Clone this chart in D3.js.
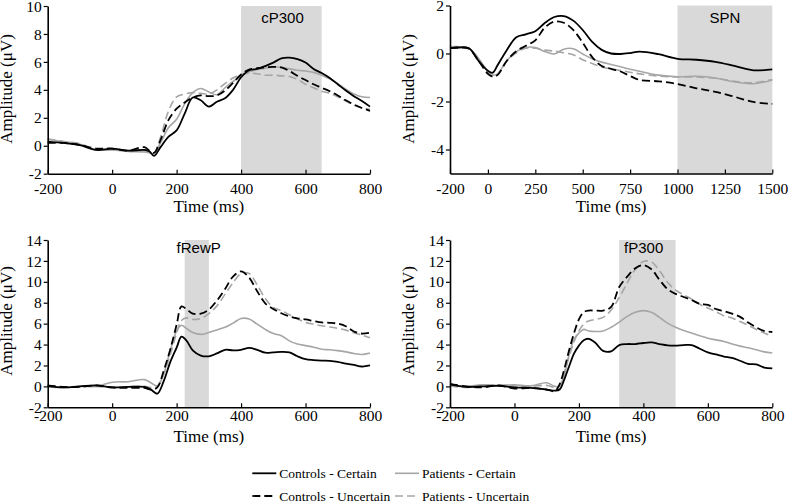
<!DOCTYPE html>
<html><head><meta charset="utf-8">
<script src="https://cdn.jsdelivr.net/npm/d3@7"></script>
<style>
body{margin:0;background:#fff;}
svg{display:block;}
.serif{font-family:"Liberation Serif","Times New Roman",Times,serif;}
.sans{font-family:"Liberation Sans",Arial,Helvetica,sans-serif;}
</style></head>
<body><svg id="c" width="789" height="502"></svg>
<script>
// ---------- DATA ----------
const seriesNames = ["Controls - Certain","Patients - Certain","Controls - Uncertain","Patients - Uncertain"];

// Panel 1: cP300
const t1 = [-200,-150,-100,-50,0,50,100,115,130,150,175,200,225,250,275,300,325,350,375,400,425,450,475,500,525,550,575,600,625,650,675,700,725,750,775,800];
const cc1 = [0.3,0.2,0.05,-0.3,-0.2,-0.35,-0.3,-0.4,-0.72,-0.1,0.65,1.1,2.3,3.45,3.25,2.8,3.15,3.4,4.0,4.9,5.4,5.5,5.7,5.95,6.25,6.3,6.2,5.95,5.5,5.2,4.85,4.4,3.95,3.55,3.2,2.8];
const cu1 = [0.2,0.2,0.05,-0.2,-0.2,-0.35,-0.1,-0.35,-0.5,0.4,1.85,2.65,3.1,3.45,3.6,3.55,3.6,3.95,4.5,5.1,5.45,5.55,5.6,5.65,5.6,5.35,5.0,4.7,4.4,4.15,3.9,3.6,3.25,2.95,2.7,2.5];
const pc1 = [0.45,0.3,0.1,-0.3,-0.3,-0.4,-0.45,-0.5,-0.55,0.2,1.3,1.9,3.0,3.8,4.1,3.85,3.65,4.15,4.6,5.0,5.3,5.45,5.55,5.65,5.6,5.5,5.4,5.35,5.25,5.05,4.8,4.45,4.05,3.7,3.5,3.45];
const pu1 = [0.5,0.3,0.15,-0.3,-0.25,-0.4,-0.35,-0.45,-0.5,0.6,2.5,3.5,3.7,3.8,3.75,3.7,4.0,4.45,4.85,5.1,5.2,5.15,5.05,5.05,5.0,4.95,4.75,4.4,4.15,3.9,3.75,3.5,3.2,2.9,2.7,2.6];

// Panel 2: SPN
const t2 = [-200,-150,-100,-50,0,25,50,100,150,200,250,300,350,400,450,500,550,600,650,700,750,800,900,1000,1100,1200,1300,1400,1500];
const cc2 = [0.22,0.25,0.22,-0.3,-0.72,-0.8,-0.5,0.15,0.68,0.8,0.93,1.27,1.52,1.56,1.37,0.98,0.48,0.15,0.0,-0.02,0.02,0.08,-0.03,-0.22,-0.26,-0.35,-0.52,-0.7,-0.66];
const cu2 = [0.22,0.25,0.2,-0.3,-0.85,-0.96,-0.9,-0.3,0.1,0.32,0.55,1.08,1.33,1.28,0.98,0.45,-0.15,-0.52,-0.64,-0.75,-0.94,-1.1,-1.16,-1.27,-1.45,-1.6,-1.8,-2.02,-2.1];
const pc2 = [0.28,0.28,0.22,-0.2,-0.75,-0.9,-0.85,-0.3,0.08,0.25,0.25,0.08,-0.02,0.18,0.2,-0.02,-0.22,-0.36,-0.46,-0.55,-0.66,-0.74,-0.9,-0.97,-0.95,-1.02,-1.18,-1.26,-1.1];
const pu2 = [0.28,0.26,0.22,-0.2,-0.78,-0.95,-0.9,-0.3,0.03,0.22,0.22,0.14,0.1,0.03,-0.05,-0.26,-0.42,-0.56,-0.64,-0.71,-0.78,-0.85,-0.94,-0.98,-0.98,-1.03,-1.16,-1.22,-1.08];

// Panel 3: fRewP
const t3 = [-200,-150,-100,-50,0,50,100,120,140,160,180,200,215,230,250,275,300,325,350,375,400,425,450,475,500,525,550,575,600,625,650,675,700,725,750,775,800];
const cc3 = [0.05,-0.1,0.0,0.1,-0.1,-0.05,-0.05,-0.3,-0.7,0.5,2.3,3.7,4.75,4.4,3.45,2.95,2.88,3.15,3.5,3.45,3.5,3.68,3.5,3.22,3.25,3.3,3.25,2.88,2.6,2.52,2.47,2.44,2.35,2.18,2.05,1.9,2.0];
const cu3 = [0.1,-0.05,-0.05,0.1,-0.1,-0.15,-0.15,-0.3,-0.1,1.5,3.5,5.9,7.65,7.4,6.95,6.95,7.35,8.2,9.3,10.5,11.0,10.4,9.1,7.95,7.4,7.0,6.7,6.5,6.4,6.25,6.12,6.08,6.0,5.75,5.25,5.05,5.13];
const pc3 = [-0.05,-0.1,0.0,0.0,0.4,0.45,0.65,0.35,0.05,1.2,3.4,5.3,5.85,5.55,5.15,4.97,5.15,5.4,5.65,6.05,6.5,6.45,5.95,5.45,5.05,4.85,4.35,4.05,3.9,3.75,3.55,3.5,3.42,3.3,3.15,3.05,3.2];
const pu3 = [0.0,-0.1,0.0,0.0,-0.1,-0.05,0.0,-0.1,0.0,1.2,3.0,5.1,6.3,6.55,6.4,6.5,6.95,7.7,8.8,9.9,10.8,10.8,9.7,8.4,7.55,7.25,6.85,6.45,6.12,5.95,5.8,5.68,5.55,5.38,5.12,4.9,4.65];

// Panel 4: fP300
const t4 = [-200,-150,-100,-50,0,50,100,125,140,155,170,185,200,215,230,250,275,300,325,350,375,400,425,450,475,500,525,550,575,600,625,650,675,700,725,750,775,800];
const cc4 = [0.2,-0.05,0.0,0.05,-0.1,-0.15,-0.3,-0.4,-0.3,0.7,1.95,3.15,3.9,4.42,4.55,4.2,3.4,3.35,3.95,4.05,4.05,4.15,4.2,4.05,3.92,3.9,3.95,3.95,3.6,3.25,3.05,2.85,2.72,2.45,2.15,2.1,1.8,1.72];
const cu4 = [0.25,0.0,-0.1,0.1,-0.2,-0.15,-0.3,-0.45,0.2,1.7,3.5,5.1,6.4,7.1,7.25,7.25,7.25,7.6,9.5,10.5,11.3,11.6,11.2,10.2,9.3,8.85,8.55,8.25,7.9,7.8,7.4,7.2,6.95,6.65,6.1,5.65,5.3,5.2];
const pc4 = [0.1,0.0,0.15,0.1,0.15,0.05,0.35,0.0,0.0,1.1,3.1,4.5,5.1,5.45,5.3,5.25,5.3,5.65,6.15,6.7,7.1,7.25,7.1,6.6,6.05,5.65,5.35,5.1,4.85,4.6,4.45,4.3,4.05,3.85,3.7,3.5,3.3,3.2];
const pu4 = [0.05,-0.1,0.1,0.1,0.05,0.0,0.1,-0.1,0.1,1.4,2.9,4.3,5.3,5.95,6.25,6.4,6.6,7.3,8.5,9.9,11.2,11.95,11.9,11.05,9.95,9.2,8.75,8.35,7.85,7.5,7.15,6.75,6.55,6.2,5.85,5.45,5.1,4.8];

// Axis ticks
const xTicksShort = [-200,0,200,400,600,800];
const xTicksLong = [-200,0,250,500,750,1000,1250,1500];
const yTicks1 = [-2,0,2,4,6,8,10];
const yTicks2 = [-4,-2,0,2];
const yTicks34 = [-2,0,2,4,6,8,10,12,14];
const windowNames = ["cP300","SPN","fRewP","fP300"];
const windows = [[400,650],[1000,1500],[225,300],[325,500]];

// ---------- DRAW ----------
const svg = d3.select("#c");
const BLACK = "#000", GRAY = "#a6a6a6";
const styles = [
  {stroke:BLACK, dash:null, w:1.8},
  {stroke:GRAY, dash:null, w:1.6},
  {stroke:BLACK, dash:"8,4", w:1.8},
  {stroke:GRAY, dash:"8,4", w:1.6}
];
const fmt = d => String(d);

const panels = [
  {x0:47.7,x1:370,yT:6,yB:173.7,xd:[-200,800],yd:[-2,10],xt:xTicksShort,yt:yTicks1,t:t1,s:[cc1,pc1,cu1,pu1],tickOff:20,titleOff:38,ytx:12,yty:89,lab:[282.5,22.7]},
  {x0:450,x1:772.3,yT:5.5,yB:173.5,xd:[-200,1500],yd:[-5,2],xt:xTicksLong,yt:yTicks2,t:t2,s:[cc2,pc2,cu2,pu2],tickOff:20,titleOff:38,ytx:414,yty:89,lab:[725,22.7]},
  {x0:47.7,x1:370,yT:240,yB:407.3,xd:[-200,800],yd:[-2,14],xt:xTicksShort,yt:yTicks34,t:t3,s:[cc3,pc3,cu3,pu3],tickOff:14,titleOff:35,ytx:12,yty:321,lab:[198.7,253]},
  {x0:450,x1:772.3,yT:240,yB:407.3,xd:[-200,800],yd:[-2,14],xt:xTicksShort,yt:yTicks34,t:t4,s:[cc4,pc4,cu4,pu4],tickOff:14,titleOff:35,ytx:414,yty:321,lab:[643.7,253]}
];

panels.forEach((p,i)=>{
  const x = d3.scaleLinear().domain(p.xd).range([p.x0,p.x1]);
  const y = d3.scaleLinear().domain(p.yd).range([p.yB,p.yT]);
  const g = svg.append("g");
  const w = windows[i];
  g.append("rect").attr("x",x(w[0])).attr("y",p.yT)
    .attr("width",x(w[1])-x(w[0])).attr("height",p.yB-p.yT).attr("fill","#d9d9d9");
  g.append("text").attr("class","sans").attr("x",p.lab[0]).attr("y",p.lab[1]).attr("text-anchor","middle")
    .attr("font-size",15).text(windowNames[i]);
  const line = d3.line().x((d,k)=>x(p.t[k])).y(d=>y(d)).curve(d3.curveCatmullRom.alpha(0.5));
  [3,1,2,0].forEach(si=>{
    const st = styles[si];
    g.append("path").attr("d",line(p.s[si])).attr("fill","none")
      .attr("stroke",st.stroke).attr("stroke-width",st.w)
      .attr("stroke-dasharray",st.dash).attr("stroke-linejoin","round");
  });
  const xa = g.append("g").attr("transform",`translate(0,${p.yB})`)
    .call(d3.axisBottom(x).tickValues(p.xt).tickSizeInner(-4).tickSizeOuter(0).tickPadding(0).tickFormat(fmt));
  xa.selectAll("text").attr("dy",null).attr("y",p.tickOff);
  const ya = g.append("g").attr("transform",`translate(${p.x0},0)`)
    .call(d3.axisLeft(y).tickValues(p.yt).tickSizeInner(4).tickSizeOuter(0).tickPadding(2).tickFormat(fmt));
  [xa,ya].forEach(a=>{
    a.attr("font-family",null).attr("font-size",null);
    a.select(".domain").attr("stroke","#000").attr("stroke-width",1.6);
    a.selectAll(".tick line").attr("stroke","#000").attr("stroke-width",1.2);
    a.selectAll("text").attr("class","serif").attr("font-size",15.5).attr("fill","#000");
  });
  ya.selectAll("text").attr("dy","0.33em");
  g.append("text").attr("class","serif").attr("x",(p.x0+p.x1)/2).attr("y",p.yB+p.titleOff).attr("text-anchor","middle")
    .attr("font-size",17).text("Time (ms)");
  g.append("text").attr("class","serif").attr("transform",`translate(${p.ytx},${p.yty}) rotate(-90)`).attr("text-anchor","middle")
    .attr("font-size",17).text("Amplitude (μV)");
});

const legPos = [[252.3,473.3],[395,473.3],[252.3,496],[395,496]];
const lg = svg.append("g");
seriesNames.forEach((n,i)=>{
  const st = styles[i], [lx,ly] = legPos[i];
  lg.append("line").attr("x1",lx).attr("x2",lx+24).attr("y1",ly).attr("y2",ly)
    .attr("stroke",st.stroke).attr("stroke-width",st.w).attr("stroke-dasharray",st.dash);
  lg.append("text").attr("class","serif").attr("x",lx+27).attr("y",ly+4.5)
    .attr("font-size",13.5).text(n);
});
</script>
</body></html>
